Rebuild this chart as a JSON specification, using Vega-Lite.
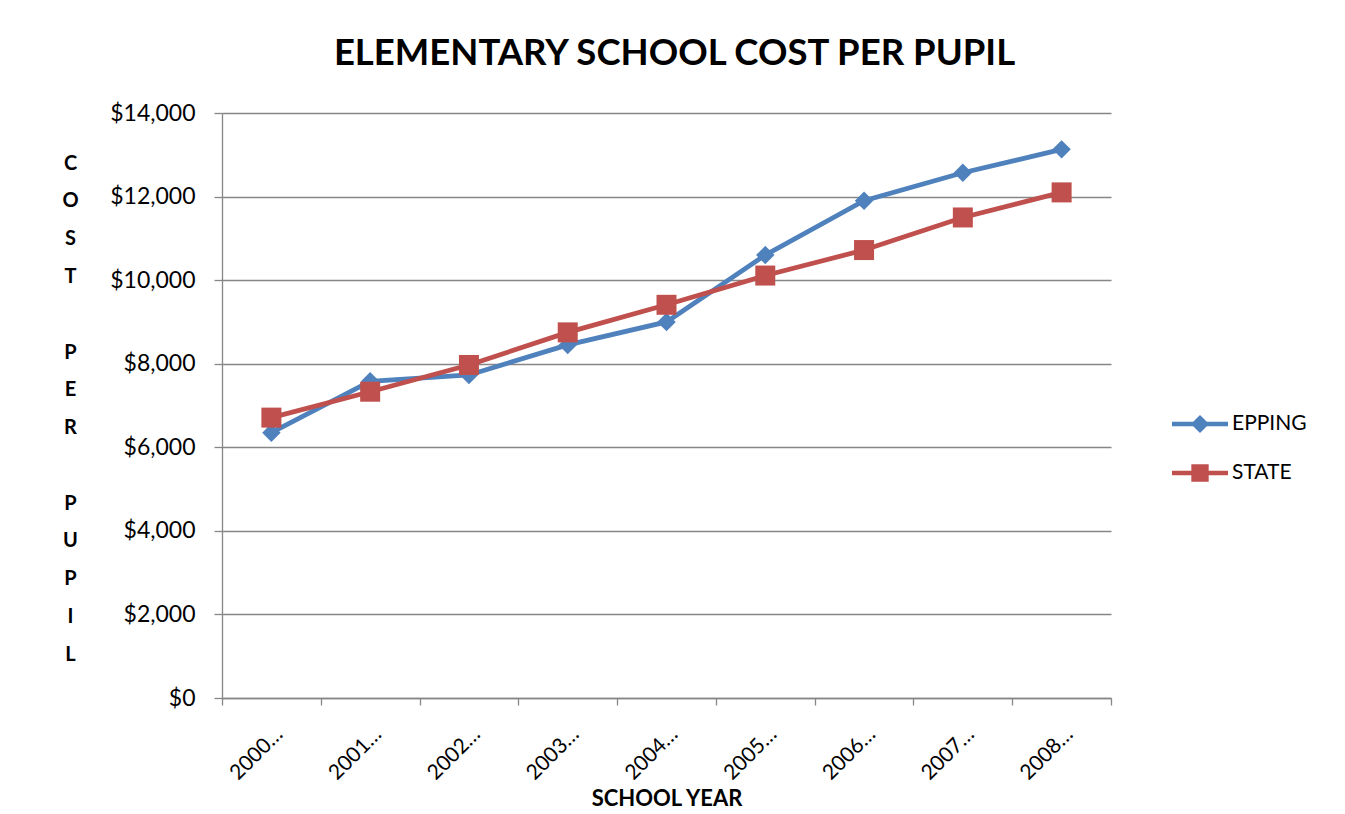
{
  "$schema": "https://vega.github.io/schema/vega-lite/v6.json",
  "width": 889,
  "height": 585,
  "autosize": {"type": "none"},
  "padding": {"left": 222, "top": 113, "right": 234, "bottom": 116},
  "background": "white",
  "title": {
    "text": "ELEMENTARY SCHOOL COST PER PUPIL",
    "font": "Lato",
    "fontSize": 36.5,
    "fontWeight": "bold",
    "color": "black",
    "anchor": "middle",
    "offset": 30,
    "dx": 8
  },
  "data": {
    "values": [
      {"year": "2000-2001", "series": "EPPING", "cost": 6350},
      {"year": "2001-2002", "series": "EPPING", "cost": 7580},
      {"year": "2002-2003", "series": "EPPING", "cost": 7730},
      {"year": "2003-2004", "series": "EPPING", "cost": 8450},
      {"year": "2004-2005", "series": "EPPING", "cost": 9000},
      {"year": "2005-2006", "series": "EPPING", "cost": 10600},
      {"year": "2006-2007", "series": "EPPING", "cost": 11900},
      {"year": "2007-2008", "series": "EPPING", "cost": 12570},
      {"year": "2008-2009", "series": "EPPING", "cost": 13130},
      {"year": "2000-2001", "series": "STATE", "cost": 6710},
      {"year": "2001-2002", "series": "STATE", "cost": 7330},
      {"year": "2002-2003", "series": "STATE", "cost": 7970},
      {"year": "2003-2004", "series": "STATE", "cost": 8750},
      {"year": "2004-2005", "series": "STATE", "cost": 9410},
      {"year": "2005-2006", "series": "STATE", "cost": 10110},
      {"year": "2006-2007", "series": "STATE", "cost": 10720},
      {"year": "2007-2008", "series": "STATE", "cost": 11500},
      {"year": "2008-2009", "series": "STATE", "cost": 12100}
    ]
  },
  "config": {
    "view": {"stroke": null},
    "font": "Lato"
  },
  "encoding": {
    "x": {
      "field": "year",
      "type": "ordinal",
      "sort": null,
      "scale": {"type": "band", "paddingInner": 0, "paddingOuter": 0},
      "axis": {
        "title": "SCHOOL YEAR",
        "titleFont": "Lato",
        "titleFontSize": 22,
        "titleFontWeight": "bold",
        "titleColor": "black",
        "titleY": 107,
        "titleBaseline": "alphabetic",
        "labelFont": "Lato",
        "labelFontSize": 21,
        "labelColor": "black",
        "labelAngle": -45,
        "labelLimit": 66,
        "labelPadding": 18,
        "tickBand": "extent",
        "tickSize": 7,
        "tickColor": "#868686",
        "tickWidth": 1.3,
        "domainColor": "#868686",
        "domainWidth": 1.3,
        "grid": false
      }
    },
    "y": {
      "field": "cost",
      "type": "quantitative",
      "scale": {"domain": [0, 14000], "nice": false, "zero": true},
      "axis": {
        "values": [0, 2000, 4000, 6000, 8000, 10000, 12000, 14000],
        "format": "$,.0f",
        "labelFont": "Lato",
        "labelFontSize": 23,
        "labelColor": "black",
        "labelPadding": 19,
        "tickSize": 8,
        "tickColor": "#868686",
        "tickWidth": 1.3,
        "domainColor": "#868686",
        "domainWidth": 1.3,
        "grid": true,
        "gridColor": "#868686",
        "gridWidth": 1.3,
        "title": ["C", "O", "S", "T", "\u200b", "P", "E", "R", "\u200b", "P", "U", "P", "I", "L"],
        "titleFont": "Lato",
        "titleFontSize": 20,
        "titleFontWeight": "bold",
        "titleColor": "black",
        "titleAngle": 0,
        "titleAlign": "center",
        "titleBaseline": "middle",
        "titleLineHeight": 37.8,
        "titleX": -152,
        "titleY": 50
      }
    },
    "color": {
      "field": "series",
      "type": "nominal",
      "scale": {"domain": ["EPPING", "STATE"], "range": ["#4F81BD", "#C0504D"]},
      "legend": {
        "title": null,
        "orient": "none",
        "legendX": 964,
        "legendY": 297,
        "padding": 0,
        "labelFont": "Lato",
        "labelFontSize": 21,
        "labelColor": "black",
        "symbolSize": 784,
        "labelOffset": 18,
        "rowPadding": 25,
        "encode": {
          "symbols": {
            "update": {
              "shape": {"signal": "datum.value === 'EPPING' ? 'M-2,-0.16H2V0.16H-2Z M0,-0.65L0.65,0L0,0.65L-0.65,0Z' : 'M-2,-0.16H2V0.16H-2Z M-0.62,-0.62H0.62V0.62H-0.62Z'"},
              "fill": {"scale": "color", "field": "value"},
              "stroke": {"value": "transparent"},
              "strokeWidth": {"value": 0},
              "opacity": {"value": 1}
            }
          }
        }
      }
    }
  },
  "layer": [
    {"mark": {"type": "line", "strokeWidth": 4.8}},
    {
      "transform": [{"filter": "datum.series === 'EPPING'"}],
      "mark": {"type": "point", "filled": true, "opacity": 1, "size": 340, "shape": "diamond"}
    },
    {
      "transform": [{"filter": "datum.series === 'STATE'"}],
      "mark": {"type": "point", "filled": true, "opacity": 1, "size": 400, "shape": "square"}
    }
  ]
}
